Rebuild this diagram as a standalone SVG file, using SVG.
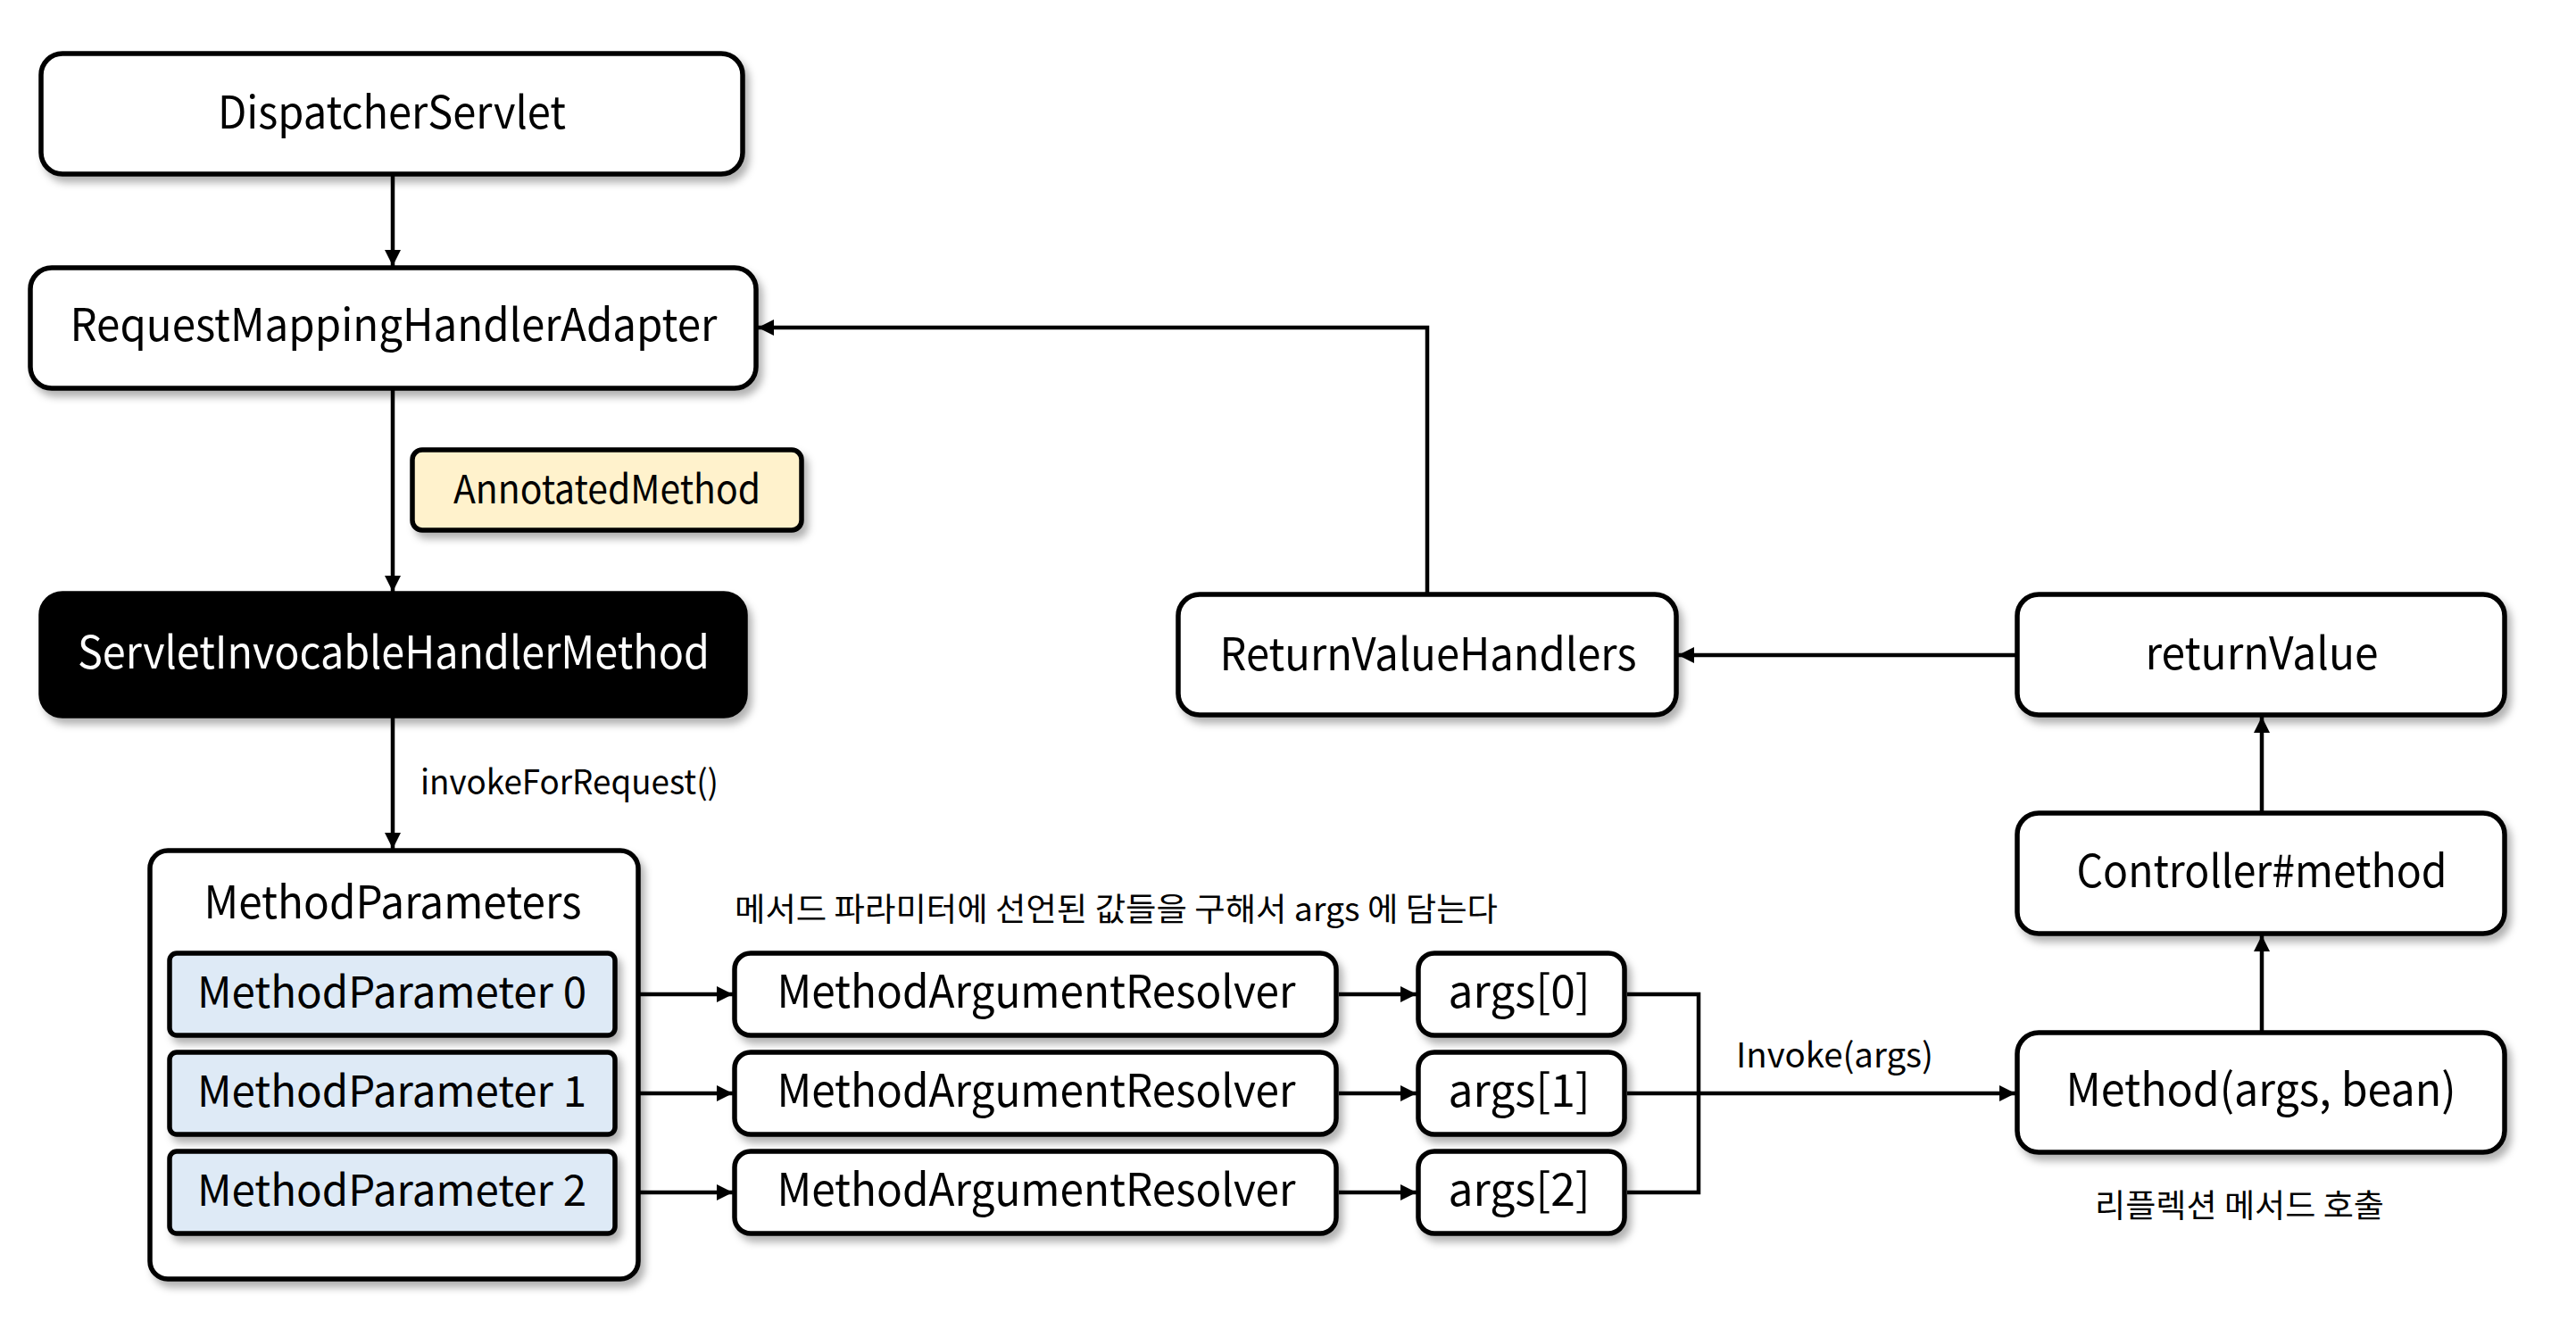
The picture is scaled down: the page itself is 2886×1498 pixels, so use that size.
<svg xmlns="http://www.w3.org/2000/svg" width="2886" height="1498" viewBox="0 0 2886 1498">
<defs>
<style>
text{font-family:"Noto Sans CJK KR","Noto Sans",sans-serif;fill:#000}
.box{fill:#fff;stroke:#000;stroke-width:5.5;filter:url(#sh)}
.dark{fill:#000;stroke:#000;stroke-width:5.5;filter:url(#sh)}
.yel{fill:#FFF2CC;stroke:#000;stroke-width:5.5;filter:url(#sh)}
.blue{fill:#DEEAF6;stroke:#000;stroke-width:5.5;filter:url(#sh)}
.lbl{font-size:50px;text-anchor:middle}
.sm{font-size:38px}
.kr{font-size:36px}
.con{fill:none;stroke:#000;stroke-width:4.5}
</style>
<filter id="sh" x="-10%" y="-10%" width="125%" height="135%">
<feDropShadow dx="5" dy="7" stdDeviation="4" flood-color="#000" flood-opacity="0.3"/>
</filter>
<marker id="ah" markerUnits="userSpaceOnUse" markerWidth="20" markerHeight="20" refX="18" refY="9" orient="auto">
<path d="M0,0 L18,9 L0,18 z" fill="#000"/>
</marker>
</defs>
<rect width="2886" height="1498" fill="#fff"/>

<g id="connectors">
<path class="con" d="M440,195 V298" marker-end="url(#ah)"/>
<path class="con" d="M440,435 V663" marker-end="url(#ah)"/>
<path class="con" d="M440,802 V951" marker-end="url(#ah)"/>
<path class="con" d="M692,1114 H821" marker-end="url(#ah)"/>
<path class="con" d="M692,1225 H821" marker-end="url(#ah)"/>
<path class="con" d="M692,1336 H821" marker-end="url(#ah)"/>
<path class="con" d="M1500,1114 H1587" marker-end="url(#ah)"/>
<path class="con" d="M1500,1225 H1587" marker-end="url(#ah)"/>
<path class="con" d="M1500,1336 H1587" marker-end="url(#ah)"/>
<path class="con" d="M1823,1114 H1903 V1336 H1823"/>
<path class="con" d="M1823,1225 H2258" marker-end="url(#ah)"/>
<path class="con" d="M2534,1157 V1048" marker-end="url(#ah)"/>
<path class="con" d="M2534,911 V803" marker-end="url(#ah)"/>
<path class="con" d="M2260,734 H1880" marker-end="url(#ah)"/>
<path class="con" d="M1599,666 V367 H849" marker-end="url(#ah)"/>
<text class="sm" x="471" y="890" textLength="334" lengthAdjust="spacingAndGlyphs">invokeForRequest()</text>
<text class="sm" x="1945" y="1196" textLength="221" lengthAdjust="spacingAndGlyphs">Invoke(args)</text>
<text class="kr" x="823" y="1032" textLength="855" lengthAdjust="spacingAndGlyphs">메서드 파라미터에 선언된 값들을 구해서 args 에 담는다</text>
<text class="kr" x="2347" y="1364" textLength="324" lengthAdjust="spacingAndGlyphs">리플렉션 메서드 호출</text>
</g>

<g id="dispatcherServlet">
<rect class="box" x="46" y="60" width="786" height="135" rx="24"/>
<text class="lbl" x="439" y="144" textLength="390" lengthAdjust="spacingAndGlyphs">DispatcherServlet</text>
</g>
<g id="requestMappingHandlerAdapter">
<rect class="box" x="34" y="300" width="813" height="135" rx="24"/>
<text class="lbl" x="441" y="382" textLength="725" lengthAdjust="spacingAndGlyphs">RequestMappingHandlerAdapter</text>
</g>
<g id="annotatedMethod">
<rect class="yel" x="462" y="504" width="436" height="90" rx="11"/>
<text class="lbl" x="680" y="564" style="font-size:44px" textLength="344" lengthAdjust="spacingAndGlyphs">AnnotatedMethod</text>
</g>
<g id="servletInvocableHandlerMethod">
<rect class="dark" x="46" y="665" width="789" height="137" rx="24"/>
<text class="lbl" x="441" y="749" style="fill:#fff" textLength="708" lengthAdjust="spacingAndGlyphs">ServletInvocableHandlerMethod</text>
</g>
<g id="methodParameters">
<rect class="box" x="168" y="953" width="547" height="480" rx="20"/>
<text class="lbl" x="440" y="1029" textLength="423" lengthAdjust="spacingAndGlyphs">MethodParameters</text>
</g>
<g id="methodParameter0">
<rect class="blue" x="190" y="1068" width="499" height="92" rx="8"/>
<text class="lbl" x="439" y="1129" style="font-size:48px" textLength="436" lengthAdjust="spacingAndGlyphs">MethodParameter 0</text>
</g>
<g id="methodParameter1">
<rect class="blue" x="190" y="1179" width="499" height="92" rx="8"/>
<text class="lbl" x="439" y="1240" style="font-size:48px" textLength="436" lengthAdjust="spacingAndGlyphs">MethodParameter 1</text>
</g>
<g id="methodParameter2">
<rect class="blue" x="190" y="1290" width="499" height="92" rx="8"/>
<text class="lbl" x="439" y="1351" style="font-size:48px" textLength="436" lengthAdjust="spacingAndGlyphs">MethodParameter 2</text>
</g>
<g id="resolver0">
<rect class="box" x="823" y="1068" width="674" height="92" rx="18"/>
<text class="lbl" x="1161" y="1129" textLength="581" lengthAdjust="spacingAndGlyphs">MethodArgumentResolver</text>
</g>
<g id="resolver1">
<rect class="box" x="823" y="1179" width="674" height="92" rx="18"/>
<text class="lbl" x="1161" y="1240" textLength="581" lengthAdjust="spacingAndGlyphs">MethodArgumentResolver</text>
</g>
<g id="resolver2">
<rect class="box" x="823" y="1290" width="674" height="92" rx="18"/>
<text class="lbl" x="1161" y="1351" textLength="581" lengthAdjust="spacingAndGlyphs">MethodArgumentResolver</text>
</g>
<g id="args0">
<rect class="box" x="1589" y="1068" width="231" height="92" rx="18"/>
<text class="lbl" x="1702" y="1129" textLength="159" lengthAdjust="spacingAndGlyphs">args[0]</text>
</g>
<g id="args1">
<rect class="box" x="1589" y="1179" width="231" height="92" rx="18"/>
<text class="lbl" x="1702" y="1240" textLength="159" lengthAdjust="spacingAndGlyphs">args[1]</text>
</g>
<g id="args2">
<rect class="box" x="1589" y="1290" width="231" height="92" rx="18"/>
<text class="lbl" x="1702" y="1351" textLength="159" lengthAdjust="spacingAndGlyphs">args[2]</text>
</g>
<g id="returnValueHandlers">
<rect class="box" x="1320" y="666" width="558" height="135" rx="24"/>
<text class="lbl" x="1600" y="751" textLength="467" lengthAdjust="spacingAndGlyphs">ReturnValueHandlers</text>
</g>
<g id="returnValue">
<rect class="box" x="2260" y="666" width="546" height="135" rx="24"/>
<text class="lbl" x="2534" y="750" textLength="261" lengthAdjust="spacingAndGlyphs">returnValue</text>
</g>
<g id="controllerMethod">
<rect class="box" x="2260" y="911" width="546" height="135" rx="24"/>
<text class="lbl" x="2534" y="994" textLength="415" lengthAdjust="spacingAndGlyphs">Controller#method</text>
</g>
<g id="methodInvoke">
<rect class="box" x="2260" y="1157" width="546" height="134" rx="24"/>
<text class="lbl" x="2533" y="1239" textLength="437" lengthAdjust="spacingAndGlyphs">Method(args, bean)</text>
</g>
</svg>
